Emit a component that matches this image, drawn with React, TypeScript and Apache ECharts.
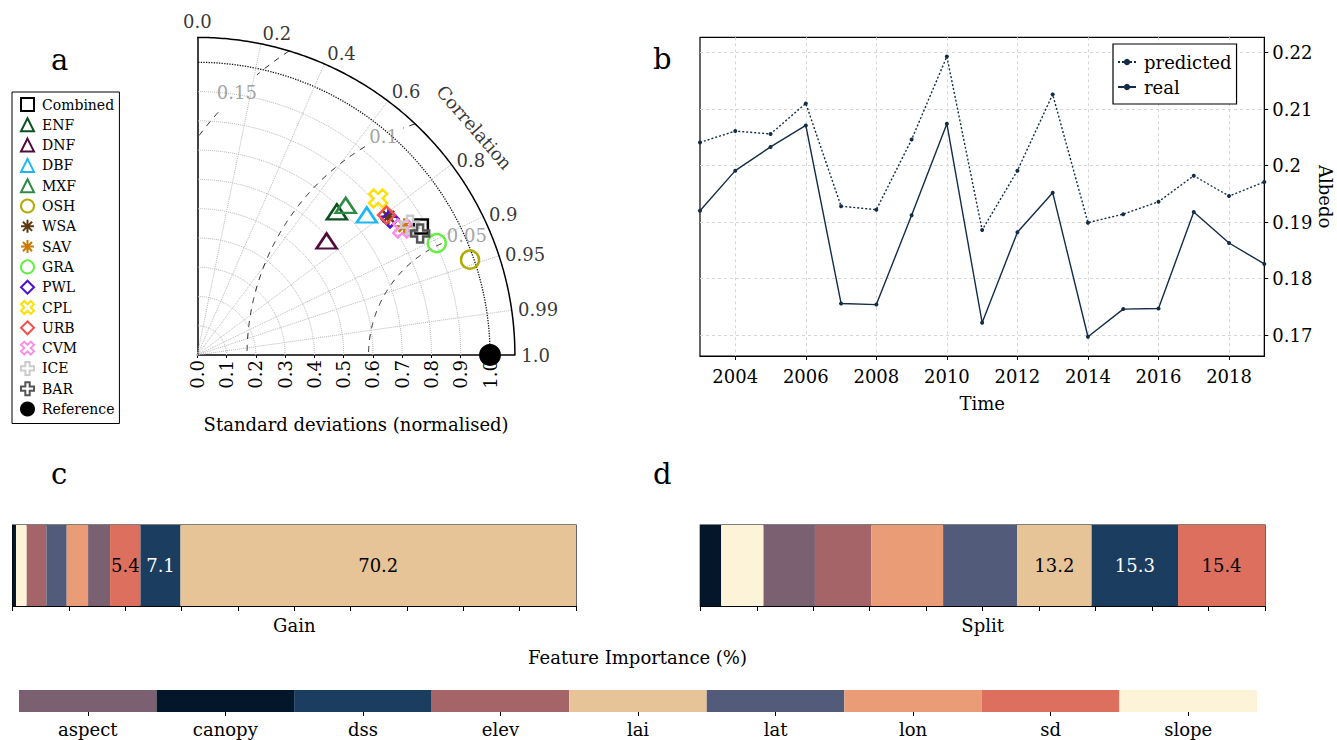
import React, { useEffect, useRef } from 'react';
import * as echarts from 'echarts';

// ---------------- data: panel a (Taylor diagram) ----------------
const taylorNames = ['Combined', 'ENF', 'DNF', 'DBF', 'MXF', 'OSH', 'WSA', 'SAV', 'GRA', 'PWL', 'CPL', 'URB', 'CVM', 'ICE', 'BAR', 'Reference'];
const taylorStd = [0.881, 0.683, 0.589, 0.751, 0.720, 0.987, 0.806, 0.833, 0.903, 0.806, 0.817, 0.804, 0.823, 0.852, 0.867, 1.0];
const taylorCorr = [0.867, 0.698, 0.750, 0.771, 0.704, 0.944, 0.810, 0.849, 0.906, 0.817, 0.756, 0.804, 0.851, 0.853, 0.878, 1.0];
const corrTicks = [0, 0.2, 0.4, 0.6, 0.8, 0.9, 0.95, 0.99, 1.0];
const stdTicks = [0, 0.1, 0.2, 0.3, 0.4, 0.5, 0.6, 0.7, 0.8, 0.9, 1.0];
const rmsLevels = [0.05, 0.1, 0.15];

// ---------------- data: panel b ----------------
const years = ['2003', '2004', '2005', '2006', '2007', '2008', '2009', '2010', '2011', '2012', '2013', '2014', '2015', '2016', '2017', '2018', '2019'];
const predicted = [0.2041, 0.2061, 0.2056, 0.2110, 0.1928, 0.1922, 0.2046, 0.2193, 0.1886, 0.1991, 0.2126, 0.1899, 0.1914, 0.1936, 0.1982, 0.1946, 0.1971];
const real = [0.1920, 0.1991, 0.2033, 0.2071, 0.1756, 0.1754, 0.1912, 0.2074, 0.1722, 0.1882, 0.1952, 0.1697, 0.1746, 0.1747, 0.1918, 0.1863, 0.1826];
const albedoTicks = [0.17, 0.18, 0.19, 0.2, 0.21, 0.22];

// ---------------- data: panels c, d ----------------
const features = ['aspect', 'canopy', 'dss', 'elev', 'lai', 'lat', 'lon', 'sd', 'slope'];
const gainPct = [3.9, 0.6, 7.1, 3.5, 70.2, 3.6, 3.8, 5.4, 1.9];
const splitPct = [9.1, 3.7, 15.3, 10.0, 13.2, 13.1, 12.7, 15.4, 7.5];

// ---------------- styles & layout ----------------
const FONT = 'DejaVu Serif';
const FS = 18;
const featureColors: Record<string, string> = {
  aspect: '#7a6070', canopy: '#03162a', dss: '#1b3d60', elev: '#a46468', lai: '#e6c497',
  lat: '#525b79', lon: '#e99c75', sd: '#dc6f5e', slope: '#fcf3d8',
};
const darkFeatures = ['canopy', 'dss', 'lat', 'aspect'];

const SMAX = 1.085;
const RMS_SCALE = 8.3;
const rmsLabelAngles = [101, 116, 134];

function plusPts(): number[][] {
  return [[-1, -3], [1, -3], [1, -1], [3, -1], [3, 1], [1, 1], [1, 3], [-1, 3], [-1, 1], [-3, 1], [-3, -1], [-1, -1]];
}
function toPath(pts: number[][]) {
  return 'path://' + pts.map((p, i) => (i ? 'L' : 'M') + p[0].toFixed(3) + ',' + p[1].toFixed(3)).join('') + 'Z';
}
const PLUS = toPath(plusPts());
const XSHAPE = toPath(plusPts().map(([x, y]) => [(x - y) / Math.SQRT2, (x + y) / Math.SQRT2]));
const ASTER = 'path://M0,-10L0,10M-10,0L10,0M-7.07,-7.07L7.07,7.07M-7.07,7.07L7.07,-7.07';

const taylorStyle: { symbol: string; size: any; color: string }[] = [
  { symbol: 'rect', size: 14, color: '#000000' },
  { symbol: 'triangle', size: [20, 15], color: '#0b5220' },
  { symbol: 'triangle', size: [20, 15], color: '#4f0c3c' },
  { symbol: 'triangle', size: [20, 15], color: '#1cb8f2' },
  { symbol: 'triangle', size: [20, 15], color: '#2f8a45' },
  { symbol: 'circle', size: 18, color: '#b3ab00' },
  { symbol: ASTER, size: 16, color: '#5c3a0e' },
  { symbol: ASTER, size: 16, color: '#cc7a00' },
  { symbol: 'circle', size: 18, color: '#66ee44' },
  { symbol: 'diamond', size: [17, 17], color: '#4b10d0' },
  { symbol: XSHAPE, size: 18, color: '#ffe10a' },
  { symbol: 'diamond', size: [17, 17], color: '#f55050' },
  { symbol: XSHAPE, size: 18, color: '#f78fe8' },
  { symbol: PLUS, size: 18, color: '#cccccc' },
  { symbol: PLUS, size: 18, color: '#555555' },
  { symbol: 'circle', size: 22, color: '#000000' },
];

const polarToXY = (s: number, c: number) => [s * c, s * Math.sqrt(Math.max(0, 1 - c * c))];
const deg = Math.PI / 180;

function buildTaylorSeries() {
  const out: any[] = [];
  const base = { type: 'line', xAxisIndex: 0, yAxisIndex: 0, symbol: 'none', silent: true, clip: false, animation: false };
  // std arcs
  stdTicks.filter((s) => s > 0).forEach((s) => {
    const pts: number[][] = [];
    for (let a = 0; a <= 90; a += 1) pts.push([s * Math.cos(a * deg), s * Math.sin(a * deg)]);
    out.push({ ...base, data: pts, z: 1, lineStyle: { color: s === 1 ? '#111' : '#b8b8b8', type: 'dotted', width: s === 1 ? 1.3 : 1 } });
  });
  // radial correlation grid
  corrTicks.filter((c) => c > 0 && c < 1).forEach((c) => {
    out.push({ ...base, data: [[0, 0], polarToXY(SMAX, c)], z: 1, lineStyle: { color: '#b8b8b8', type: 'dotted', width: 1 } });
  });
  // outer arc
  const outer: number[][] = [];
  for (let a = 0; a <= 90; a += 0.5) outer.push([SMAX * Math.cos(a * deg), SMAX * Math.sin(a * deg)]);
  out.push({ ...base, data: outer, z: 3, lineStyle: { color: '#000', width: 1.5 } });
  // RMS contours
  rmsLevels.forEach((lv, k) => {
    const R = lv * RMS_SCALE;
    const label = String(lv);
    const gap = ((label.length * FS * 0.32 + 3) / (R * 292.7)) / deg;
    const segs: number[][][] = [];
    let cur: number[][] = [];
    for (let p = 0; p <= 180; p += 0.25) {
      const x = 1 + R * Math.cos(p * deg);
      const y = R * Math.sin(p * deg);
      const inside = x >= 0 && y >= 0 && x * x + y * y <= SMAX * SMAX && Math.abs(p - rmsLabelAngles[k]) > gap;
      if (inside) cur.push([x, y]);
      else if (cur.length) { segs.push(cur); cur = []; }
    }
    if (cur.length) segs.push(cur);
    segs.forEach((sg) => out.push({ ...base, data: sg, z: 2, lineStyle: { color: '#222', type: [6, 6], width: 1 } }));
    const lp = [1 + R * Math.cos(rmsLabelAngles[k] * deg), R * Math.sin(rmsLabelAngles[k] * deg)];
    out.push({
      type: 'scatter', xAxisIndex: 0, yAxisIndex: 0, clip: false, silent: true, symbolSize: 1,
      itemStyle: { color: 'rgba(0,0,0,0)' }, z: 4,
      data: [{ value: lp, label: { show: true, formatter: label, position: 'inside', color: '#8a8a8a', fontSize: FS, fontFamily: FONT } }],
    });
  });
  // correlation tick labels
  out.push({
    type: 'scatter', xAxisIndex: 0, yAxisIndex: 0, clip: false, silent: true, symbolSize: 1,
    itemStyle: { color: 'rgba(0,0,0,0)' }, z: 4,
    data: corrTicks.map((c) => {
      const theta = Math.acos(c) / deg;
      const dy = theta > 45 && theta < 85 ? -5 : 0;
      return {
        value: polarToXY(1.105, c),
        label: {
          show: true, formatter: c === 0 || c === 1 ? c.toFixed(1) : String(c),
          position: c === 0 ? 'top' : 'right', distance: c === 0 ? 1 : 0, offset: [0, dy],
          color: '#000', fontSize: FS, fontFamily: FONT,
        },
      };
    }),
  });
  // Correlation axis title
  out.push({
    type: 'scatter', xAxisIndex: 0, yAxisIndex: 0, clip: false, silent: true, symbolSize: 1,
    itemStyle: { color: 'rgba(0,0,0,0)' }, z: 4,
    data: [{
      value: polarToXY(1.225, Math.cos(39.4 * deg)),
      label: { show: true, formatter: 'Correlation', position: 'inside', rotate: -49, color: '#000', fontSize: FS, fontFamily: FONT },
    }],
  });
  // markers
  taylorNames.forEach((name, i) => {
    const st = taylorStyle[i];
    const filled = name === 'Reference';
    out.push({
      type: 'scatter', name, xAxisIndex: 0, yAxisIndex: 0, clip: false,
      symbol: st.symbol, symbolSize: st.size, z: 10 + i,
      data: [polarToXY(taylorStd[i], taylorCorr[i])],
      itemStyle: filled
        ? { color: st.color, borderColor: st.color, borderWidth: 0, opacity: 1 }
        : { color: 'rgba(0,0,0,0)', borderColor: st.color, borderWidth: 2.5, opacity: 1 },
    });
  });
  return out;
}

function buildStack(values: number[], stack: string, xIdx: number, yIdx: number) {
  const order = features.map((f, i) => i).sort((a, b) => values[a] - values[b]);
  const top3 = [...values].sort((a, b) => b - a).slice(0, 3);
  return order.map((i) => {
    const f = features[i];
    const v = values[i];
    return {
      type: 'bar', name: stack + '-' + f, stack, xAxisIndex: xIdx, yAxisIndex: yIdx, barWidth: '100%',
      data: [v], silent: true,
      itemStyle: { color: featureColors[f] },
      label: {
        show: top3.includes(v), position: 'inside', formatter: v.toFixed(1),
        color: darkFeatures.includes(f) ? '#fff' : '#000', fontSize: FS, fontFamily: FONT,
      },
    };
  });
}

function buildOption(): any {
  const evenYear = (idx: number) => idx % 2 === 1;
  const lineColor = '#132d48';
  const blackAxis = { lineStyle: { color: '#000', width: 1 } };
  const titleStyle = { fontFamily: FONT, fontSize: 29, fontWeight: 'normal', color: '#000' };
  const nameStyle = { fontSize: FS, fontFamily: FONT, color: '#000' };
  return {
    animation: false,
    backgroundColor: '#fff',
    textStyle: { fontFamily: FONT, color: '#000' },
    title: [
      { text: 'a', left: 51, top: 45, padding: 0, textStyle: titleStyle },
      { text: 'b', left: 653, top: 44, padding: 0, textStyle: titleStyle },
      { text: 'c', left: 51, top: 459, padding: 0, textStyle: titleStyle },
      { text: 'd', left: 653, top: 459, padding: 0, textStyle: titleStyle },
      { text: 'Feature Importance (%)', left: 528, top: 648, padding: 0, textStyle: { ...nameStyle, fontWeight: 'normal' } },
    ],
    legend: [
      {
        data: taylorNames, orient: 'vertical', left: 12, top: 92, selectedMode: false,
        itemWidth: 13, itemHeight: 13, itemGap: 5.3, padding: [5, 5, 7, 8],
        borderColor: '#000', borderWidth: 1, borderRadius: 0, backgroundColor: '#fff',
        itemStyle: { borderWidth: 2 },
        textStyle: { fontFamily: FONT, fontSize: 14, lineHeight: 14, color: '#000', padding: [0, 0, 0, 3] },
      },
      {
        data: ['predicted', 'real'], orient: 'vertical', left: 1113, top: 44, selectedMode: false,
        itemWidth: 18, itemHeight: 8, itemGap: 7, padding: [9, 5, 8, 4],
        borderColor: '#000', borderWidth: 1.2, borderRadius: 0, backgroundColor: '#fff',
        textStyle: { fontFamily: FONT, fontSize: FS, lineHeight: 18, color: '#000', padding: [0, 0, 0, 3] },
      },
    ],
    grid: [
      { left: 197.3, top: 37.4, width: 317.6, height: 317.6 },
      { left: 700, top: 37.3, width: 564.3, height: 318.7, show: true, borderColor: '#000', borderWidth: 1.2 },
      { left: 12.6, top: 525, width: 563.4, height: 81, show: true, borderColor: '#000', borderWidth: 1.2 },
      { left: 700.3, top: 525, width: 564.7, height: 81, show: true, borderColor: '#000', borderWidth: 1.2 },
      { left: 19, top: 690, width: 1238, height: 22 },
    ],
    xAxis: [
      {
        gridIndex: 0, type: 'value', min: 0, max: SMAX,
        axisLine: { show: true, lineStyle: { color: '#000', width: 1.5 } },
        axisTick: { show: true, customValues: stdTicks, length: 3, lineStyle: { color: '#000' } },
        axisLabel: { customValues: stdTicks, rotate: 90, margin: 5, fontSize: FS, color: '#000', fontFamily: FONT, formatter: (v: number) => v.toFixed(1) },
        splitLine: { show: false },
        name: 'Standard deviations (normalised)', nameLocation: 'middle', nameGap: 60,
        nameTextStyle: nameStyle,
      },
      {
        gridIndex: 1, type: 'category', data: years, boundaryGap: false,
        axisLine: { show: true, ...blackAxis },
        axisTick: { show: true, interval: (i: number) => evenYear(i), length: 4, lineStyle: { color: '#000' } },
        axisLabel: { interval: (i: number) => evenYear(i), margin: 11, fontSize: FS, color: '#000', fontFamily: FONT },
        splitLine: { show: true, interval: (i: number) => evenYear(i), lineStyle: { color: '#d6d6d6', type: [3, 3] } },
        name: 'Time', nameLocation: 'middle', nameGap: 38,
        nameTextStyle: nameStyle,
      },
      {
        gridIndex: 2, type: 'value', min: 0, max: 100, interval: 10,
        axisLine: { show: true, ...blackAxis },
        axisTick: { show: true, length: 5, lineStyle: { color: '#000' } },
        axisLabel: { show: false }, splitLine: { show: false },
        name: 'Gain', nameLocation: 'middle', nameGap: 10,
        nameTextStyle: { ...nameStyle, verticalAlign: 'top' },
      },
      {
        gridIndex: 3, type: 'value', min: 0, max: 100, interval: 10,
        axisLine: { show: true, ...blackAxis },
        axisTick: { show: true, length: 5, lineStyle: { color: '#000' } },
        axisLabel: { show: false }, splitLine: { show: false },
        name: 'Split', nameLocation: 'middle', nameGap: 10,
        nameTextStyle: { ...nameStyle, verticalAlign: 'top' },
      },
      {
        gridIndex: 4, type: 'category', data: features,
        axisLine: { show: false },
        axisTick: { show: true, alignWithLabel: true, length: 4, lineStyle: { color: '#000' } },
        axisLabel: { margin: 8, fontSize: FS, color: '#000', fontFamily: FONT },
        splitLine: { show: false },
      },
    ],
    yAxis: [
      {
        gridIndex: 0, type: 'value', min: 0, max: SMAX,
        axisLine: { show: true, lineStyle: { color: '#000', width: 1.5 } },
        axisTick: { show: false }, axisLabel: { show: false }, splitLine: { show: false },
      },
      {
        gridIndex: 1, type: 'value', position: 'right', min: 0.1663, max: 0.2227,
        axisLine: { show: true, ...blackAxis },
        axisTick: { show: true, customValues: albedoTicks, length: 4, lineStyle: { color: '#000' } },
        axisLabel: { customValues: albedoTicks, margin: 8, fontSize: FS, color: '#000', fontFamily: FONT, formatter: (v: number) => String(+v.toFixed(2)) },
        splitLine: { show: true, lineStyle: { color: '#d6d6d6', type: [3, 3] } },
        name: 'Albedo', nameLocation: 'middle', nameGap: 52, nameRotate: -90,
        nameTextStyle: nameStyle,
      },
      { gridIndex: 2, type: 'category', data: ['Gain'], show: false },
      { gridIndex: 3, type: 'category', data: ['Split'], show: false },
      { gridIndex: 4, type: 'value', min: 0, max: 1, show: false },
    ],
    series: [
      ...buildTaylorSeries(),
      {
        type: 'line', name: 'predicted', xAxisIndex: 1, yAxisIndex: 1, data: predicted,
        symbol: 'circle', symbolSize: 4, showSymbol: true,
        lineStyle: { color: lineColor, width: 1.4, type: [2, 2] }, itemStyle: { color: lineColor },
      },
      {
        type: 'line', name: 'real', xAxisIndex: 1, yAxisIndex: 1, data: real,
        symbol: 'circle', symbolSize: 4, showSymbol: true,
        lineStyle: { color: lineColor, width: 1.4 }, itemStyle: { color: lineColor },
      },
      ...buildStack(gainPct, 'gain', 2, 2),
      ...buildStack(splitPct, 'split', 3, 3),
      {
        type: 'bar', name: 'colorbar', xAxisIndex: 4, yAxisIndex: 4, barWidth: '100%', silent: true,
        data: features.map((f) => ({ value: 1, itemStyle: { color: featureColors[f] } })),
      },
    ],
  };
}

export default function App() {
  const ref = useRef<HTMLDivElement>(null);
  useEffect(() => {
    const chart = echarts.init(ref.current as HTMLDivElement, null, { renderer: 'svg' });
    chart.setOption(buildOption());
    return () => chart.dispose();
  }, []);
  return <div ref={ref} style={{ position: 'fixed', left: 0, top: 0, width: 1337, height: 740, background: '#fff' }} />;
}
